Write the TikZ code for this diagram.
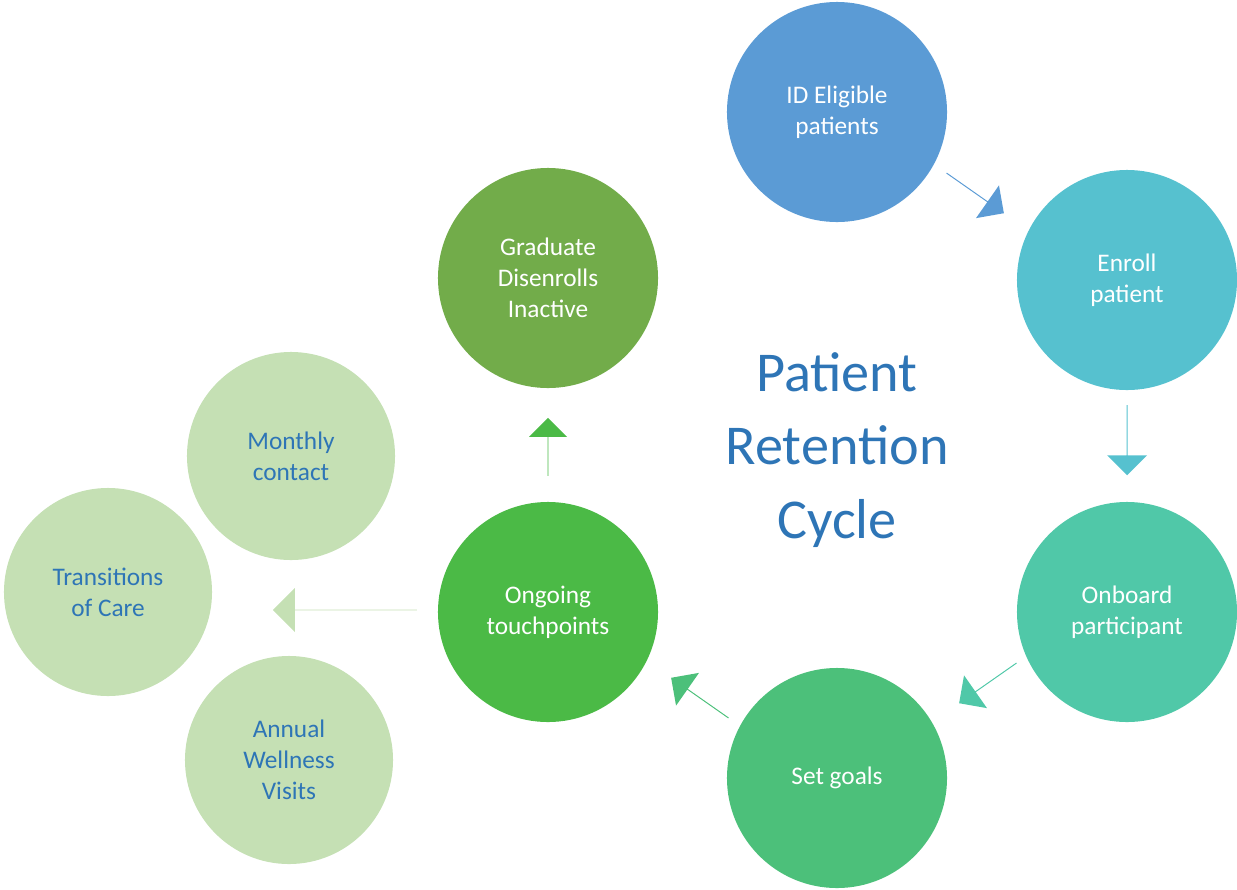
\documentclass[tikz,border=0pt]{standalone}
\usepackage{fontspec}
\setmainfont{Carlito}
\usetikzlibrary{shapes.arrows,calc}
\definecolor{cid}{HTML}{5B9BD5}
\definecolor{cenr}{HTML}{56C1CF}
\definecolor{conb}{HTML}{50C8A8}
\definecolor{cset}{HTML}{4CC07A}
\definecolor{cong}{HTML}{4BBA46}
\definecolor{cgrad}{HTML}{72AC4A}
\definecolor{clight}{HTML}{C5E0B4}
\definecolor{ctext}{HTML}{2E75B6}
\tikzset{
  step/.style={circle,fill=#1,minimum size=5.5cm,inner sep=0pt,text=white,align=center,font=\fontsize{18}{22}\selectfont},
  side/.style={circle,fill=clight,minimum size=5.2cm,inner sep=0pt,text=ctext,align=center,font=\fontsize{18}{22}\selectfont},
  flow/.style={single arrow,fill=#1,inner sep=0pt,minimum height=1.75cm,minimum width=1cm,single arrow head extend=0.28cm}
}
\begin{document}
\begin{tikzpicture}[x=0.025cm,y=-0.025cm]
  \useasboundingbox (0,0) rectangle (1237,889);

  % cycle
  \node[step=cid] (id) at (837,112) {ID Eligible\\patients};
  \node[step=cenr] (enroll) at (1127,280) {Enroll\\patient};
  \node[step=conb] (onboard) at (1127,612) {Onboard\\participant};
  \node[step=cset] (goals) at (837,778) {Set goals};
  \node[step=cong] (ongoing) at (548,612) {Ongoing\\touchpoints};
  \node[step=cgrad] (grad) at (548,278) {Graduate\\Disenrolls\\Inactive};

  % touchpoints
  \node[side] (monthly) at (291,456) {Monthly\\contact};
  \node[side] (trans) at (108,592) {Transitions\\of Care};
  \node[side] (annual) at (289,760) {Annual\\Wellness\\Visits};

  \node[text=ctext,align=center,font=\fontsize{40}{52}\selectfont] (title) at (837,450) {Patient\\Retention\\Cycle};

  % arrows
  \node[flow=cid,rotate=-35] (a1) at (975,193) {};
  \node[flow=cenr,rotate=-90] (a2) at (1127,440) {};
  \node[flow=conb,rotate=215] (a3) at (988,683) {};
  \node[flow=cset,rotate=145] (a4) at (700,698) {};
  \node[flow=cong,rotate=90,minimum height=1.45cm,minimum width=0.95cm,single arrow head extend=0.45cm] (a5) at (548,447) {};
  \node[flow=clight,rotate=180,minimum height=3.6cm,minimum width=1.1cm,single arrow head extend=0.35cm] (a6) at (345,610) {};
\end{tikzpicture}
\end{document}
